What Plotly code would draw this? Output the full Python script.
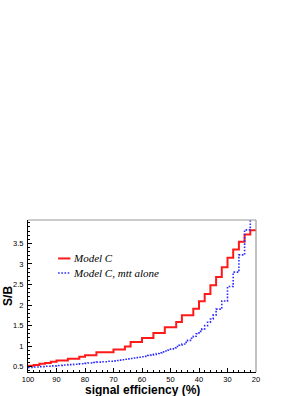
import numpy as np
import plotly.graph_objects as go

# ---- data ----
# Model C: 2 % wide bins, from 100 % down to 20 % signal efficiency
red_bin_width = 2
red_values = [0.52, 0.54, 0.57, 0.59, 0.62, 0.65, 0.65, 0.69, 0.69, 0.74,
              0.78, 0.78, 0.85, 0.85, 0.85, 0.92, 0.92, 0.99, 1.10, 1.10,
              1.20, 1.20, 1.32, 1.32, 1.46, 1.46, 1.59, 1.75, 1.75, 1.91,
              2.09, 2.27, 2.48, 2.68, 2.92, 3.15, 3.35, 3.54, 3.72, 3.82]

# Model C, mtt alone: 1 % wide bins
blue_bin_width = 1
blue_values = [0.48, 0.48, 0.49, 0.49, 0.50, 0.50, 0.51, 0.51, 0.52, 0.52,
               0.53, 0.53, 0.54, 0.54, 0.55, 0.55, 0.56, 0.56, 0.57, 0.57,
               0.58, 0.59, 0.59, 0.60, 0.61, 0.61, 0.62, 0.62, 0.63, 0.63,
               0.64, 0.65, 0.66, 0.67, 0.68, 0.69, 0.70, 0.71, 0.72, 0.73,
               0.74, 0.75, 0.77, 0.78, 0.80, 0.82, 0.84, 0.86, 0.88, 0.90,
               0.93, 0.96, 0.99, 1.02, 1.05, 1.09, 1.14, 1.19, 1.24, 1.30,
               1.36, 1.42, 1.50, 1.58, 1.66, 1.76, 1.90, 1.90, 2.10, 2.10,
               2.45, 2.45, 2.80, 2.80, 3.22, 3.22, 3.83, 3.83, 4.50, 4.50]

series_names = ["Model C", "Model C, mtt alone"]
x_title = "signal efficiency (%)"
y_title = "S/B"
x_start = 100
x_tick_vals = [100, 90, 80, 70, 60, 50, 40, 30, 20]
y_tick_vals = [0.5, 1, 1.5, 2, 2.5, 3, 3.5]


def step_xy(values, width):
    edges = [x_start - i * width for i in range(len(values) + 1)]
    return edges, list(values) + [values[-1]]


rx, ry = step_xy(red_values, red_bin_width)
bx, by = step_xy(blue_values, blue_bin_width)

red_col = "#ff1a1a"
blue_col = "#2b2bff"
blue_dash = "1.6px,1.6px"

fig = go.Figure()
fig.add_trace(go.Scatter(x=rx, y=ry, mode="lines", line_shape="hv",
                         line=dict(color=red_col, width=2),
                         name=series_names[0], showlegend=False))
fig.add_trace(go.Scatter(x=bx, y=by, mode="lines", line_shape="hv",
                         line=dict(color=blue_col, width=1.6, dash=blue_dash),
                         name=series_names[1], showlegend=False))

tick_font = dict(family="Liberation Sans", size=7.5, color="black")
title_font = dict(family="Liberation Sans", size=12, color="black", weight="bold")

fig.update_xaxes(range=[100, 20], tickvals=x_tick_vals, automargin=False,
                 ticks="inside", ticklen=4, tickwidth=1, tickcolor="black",
                 minor=dict(dtick=2, ticks="inside", ticklen=2, tickcolor="black"),
                 showline=True, linecolor="black", linewidth=1,
                 showgrid=False, zeroline=False,
                 tickfont=tick_font, ticklabelstandoff=0)
fig.update_yaxes(range=[0.37, 4.07], tickvals=y_tick_vals, automargin=False,
                 ticks="inside", ticklen=4, tickwidth=1, tickcolor="black",
                 minor=dict(dtick=0.1, tick0=0.5, ticks="inside", ticklen=2, tickcolor="black"),
                 showline=True, linecolor="black", linewidth=1,
                 showgrid=False, zeroline=False,
                 tickfont=tick_font, ticklabelstandoff=2)

# axis titles placed as in the ROOT original
fig.add_annotation(xref="x domain", yref="y domain", x=0.5, y=-0.116,
                   text=x_title, showarrow=False, xanchor="center", yanchor="middle",
                   font=title_font)
fig.add_annotation(xref="x domain", yref="y domain", x=-0.088, y=0.5,
                   text=y_title, showarrow=False, xanchor="center", yanchor="middle",
                   textangle=-90, font=title_font)

# grey frame on top and right
frame = dict(type="line", xref="x domain", yref="y domain",
             line=dict(color="#9a9a9a", width=1.2))
fig.add_shape(**frame, x0=0, x1=1, y0=1, y1=1)
fig.add_shape(**frame, x0=1, x1=1, y0=0, y1=1)

# legend (drawn by hand, ROOT style short samples)
leg_font = dict(family="Liberation Serif", size=11, color="black", style="italic")
leg_rows = [(0.747, red_col, "solid", 2), (0.651, blue_col, blue_dash, 1.6)]
for (yy, col, dash, w), name in zip(leg_rows, series_names):
    fig.add_shape(type="line", xref="x domain", yref="y domain",
                  x0=0.132, x1=0.186, y0=yy, y1=yy,
                  line=dict(color=col, width=w, dash=dash))
    fig.add_annotation(xref="x domain", yref="y domain", x=0.19, y=yy,
                       text=name, showarrow=False, xanchor="left", yanchor="middle",
                       font=leg_font)

fig.update_layout(width=306, height=396,
                  margin=dict(l=28, r=50, t=220, b=24),
                  paper_bgcolor="white", plot_bgcolor="white",
                  showlegend=False)

# remove the default 8px page margin so the figure fills the window exactly
fig.write_html("out.html",
               config={"displayModeBar": False},
               post_script="document.body.style.margin='0';"
                           "document.body.style.overflow='hidden';")
